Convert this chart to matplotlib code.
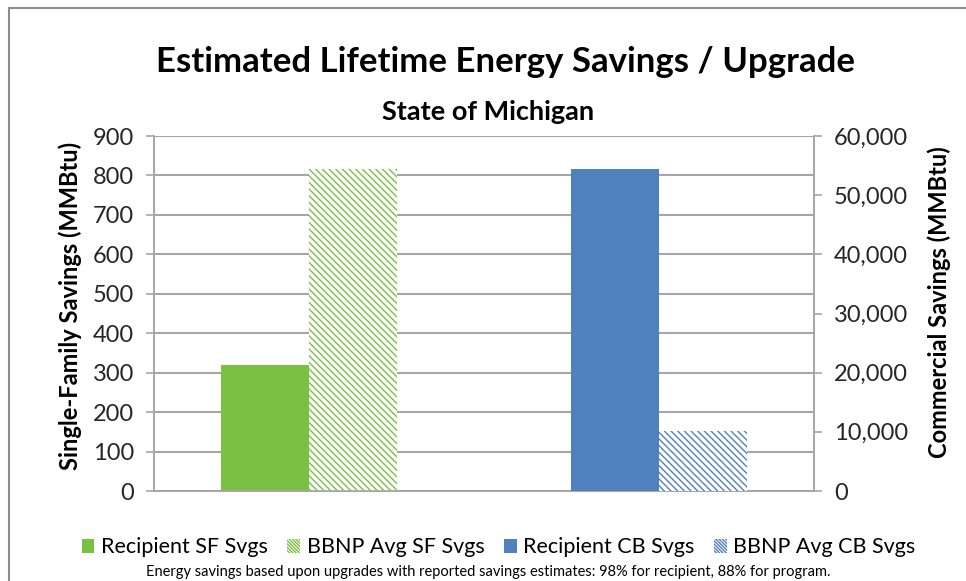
import matplotlib.pyplot as plt
from matplotlib.patches import Rectangle, Patch
from matplotlib.ticker import FuncFormatter

plt.rcParams['font.family'] = ['Lato', 'DejaVu Sans']
plt.rcParams['hatch.linewidth'] = 1.0

# data
sf_labels = ['Recipient SF Svgs', 'BBNP Avg SF Svgs']
sf_values = [320, 816]            # MMBtu, left axis
cb_labels = ['Recipient CB Svgs', 'BBNP Avg CB Svgs']
cb_values = [54400, 10200]        # MMBtu, right axis
green = '#7AC143'
blue = '#4F81BD'
grid_c = '#A6A6A6'
hatch = '\\' * 5

fig = plt.figure(figsize=(9.66, 5.81), dpi=100)
ax = fig.add_axes([0.1594, 0.1549, 0.6832, 0.611])
ax2 = ax.twinx()

w = 0.267
c1, c2 = 0.47, 1.53
ax.bar(c1 - w / 2, sf_values[0], w, color=green, linewidth=0, zorder=3)
ax.bar(c1 + w / 2, sf_values[1], w, facecolor='white', edgecolor=green,
       hatch=hatch, linewidth=0, zorder=3)
ax2.bar(c2 - w / 2, cb_values[0], w, color=blue, linewidth=0, zorder=3)
ax2.bar(c2 + w / 2, cb_values[1], w, facecolor='white', edgecolor=blue,
        hatch=hatch, linewidth=0, zorder=3)

ax.set_xlim(0, 2)
ax.set_ylim(0, 900)
ax.set_yticks(range(0, 901, 100))
ax2.set_ylim(0, 60000)
ax2.set_yticks(range(0, 60001, 10000))
ax2.yaxis.set_major_formatter(FuncFormatter(lambda v, p: f'{int(v):,}'))
ax.set_xticks([])
ax.yaxis.grid(True, color=grid_c, linewidth=1.5)
ax.set_axisbelow(True)

for a in (ax, ax2):
    a.spines['top'].set_visible(False)
    for s in ('left', 'right', 'bottom'):
        a.spines[s].set_color(grid_c)
        a.spines[s].set_linewidth(1.2)
    a.tick_params(axis='y', color=grid_c, length=5.5, width=1.2,
                  labelsize=17, labelcolor='#262626', pad=9)

fig.text(0.0725, 0.473, 'Single-Family Savings (MMBtu)', rotation=90,
         ha='center', va='center', fontsize=17, fontweight='bold')
fig.text(0.972, 0.48, 'Commercial Savings (MMBtu)', rotation=90,
         ha='center', va='center', fontsize=17, fontweight='bold')

fig.text(0.523, 0.893, 'Estimated Lifetime Energy Savings / Upgrade',
         ha='center', va='center', fontsize=25, fontweight='bold')
fig.text(0.505, 0.807, 'State of Michigan', ha='center', va='center',
         fontsize=19.5, fontweight='bold')

handles = [Patch(facecolor=green, linewidth=0),
           Patch(facecolor='white', edgecolor=green, hatch=hatch * 2, linewidth=0),
           Patch(facecolor=blue, linewidth=0),
           Patch(facecolor='white', edgecolor=blue, hatch=hatch * 2, linewidth=0)]
fig.legend(handles, sf_labels + cb_labels, loc='center', ncol=4,
           bbox_to_anchor=(0.516, 0.058), frameon=False, fontsize=15.5,
           handlelength=0.6, handleheight=0.6, handletextpad=0.3,
           columnspacing=0.9)
fig.text(0.505, 0.0155, 'Energy savings based upon upgrades with reported savings '
         'estimates: 98% for recipient, 88% for program.',
         ha='center', va='center', fontsize=10.5)

fig.add_artist(Rectangle((9 / 966, -0.05), 1.1, 1 - 8 / 581 + 0.05,
                         transform=fig.transFigure, fill=False,
                         edgecolor='#8C8C8C', linewidth=1.5))

fig.savefig('out.png', dpi=100)
